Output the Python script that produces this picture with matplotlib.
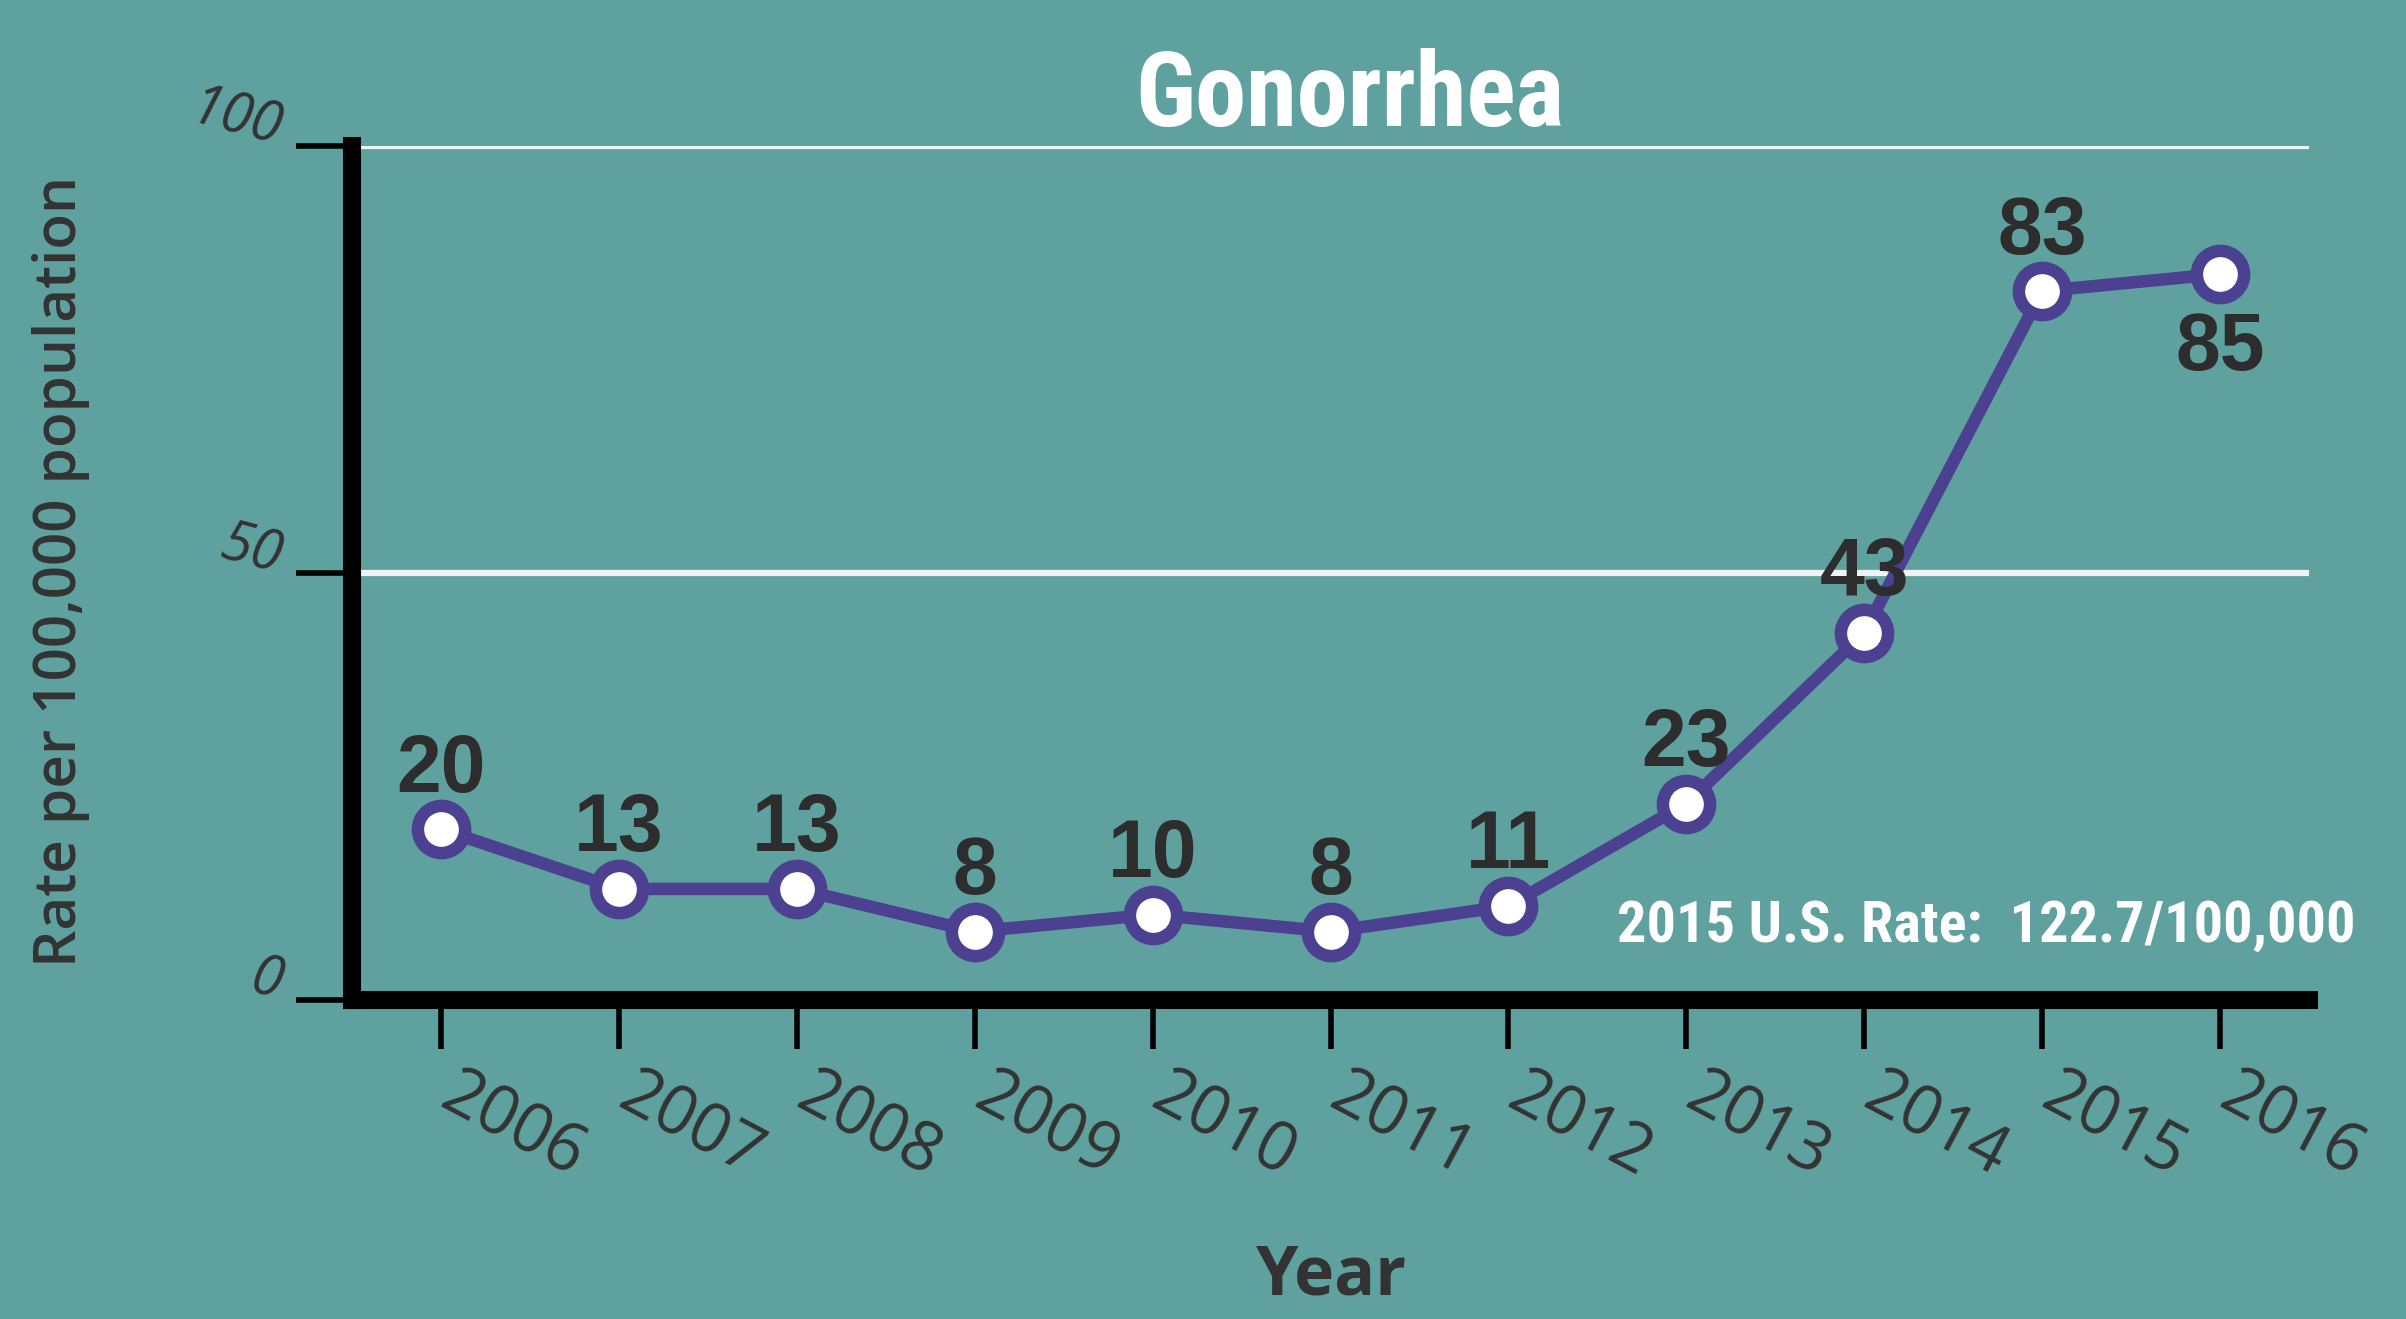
import matplotlib
matplotlib.use('Agg')
import matplotlib.pyplot as plt
from matplotlib.transforms import ScaledTranslation

# data
years = [2006, 2007, 2008, 2009, 2010, 2011, 2012, 2013, 2014, 2015, 2016]
rates = [20, 13, 13, 8, 10, 8, 11, 23, 43, 83, 85]
below = [2016]                      # years whose value label sits under the point
yticks = [0, 50, 100]
title = 'Gonorrhea'
note = '2015 U.S. Rate:  122.7/100,000'

bg = '#5fa19e'
purple = '#4b4190'
dark = '#2d2d2d'
narrow = ['Roboto Condensed', 'DejaVu Sans Condensed', 'Liberation Sans Narrow', 'Roboto']

fig = plt.figure(figsize=(24.06, 13.19), dpi=100, facecolor=bg)
ax = fig.add_axes([0.1463, 0.2419, 0.8134, 0.6475], facecolor=bg)
ax.set_xlim(2005.5, 2016.5)
ax.set_ylim(0, 100)

# gridlines (white) at 50 / 100
ax.set_yticks(yticks)
ax.yaxis.grid(True, color='#eef3f3', lw=4.5)
ax.set_axisbelow(True)

ax.plot(years, rates, color=purple, lw=9, marker='o', ms=34, mfc='white',
        mec=purple, mew=9, zorder=3, clip_on=False)

for x, v in zip(years, rates):
    if x in below:
        ax.annotate(str(v), (x, v), xytext=(0, -27), textcoords='offset points',
                    ha='center', va='top', fontsize=58, fontweight='bold',
                    family='Liberation Sans', color=dark, zorder=4)
    else:
        ax.annotate(str(v), (x, v), xytext=(0, 27), textcoords='offset points',
                    ha='center', va='baseline', fontsize=58, fontweight='bold',
                    family='Liberation Sans', color=dark, zorder=4)

# spines
for s in ['top', 'right']:
    ax.spines[s].set_visible(False)
for s in ['left', 'bottom']:
    ax.spines[s].set_linewidth(13)
    ax.spines[s].set_color('black')

# ticks
ax.set_xticks(years)
ax.set_xticklabels([str(y) for y in years])
ax.tick_params(axis='x', length=35, width=4, color='black', pad=9,
               labelsize=48, labelcolor='#333333')
shift = ScaledTranslation(0.2, 0, fig.dpi_scale_trans)
for lab in ax.get_xticklabels():
    lab.set_rotation(-28)
    lab.set_ha('left')
    lab.set_va('top')
    lab.set_rotation_mode('anchor')
    lab.set_family('Open Sans')
    lab.set_transform(lab.get_transform() + shift)

ax.set_yticklabels([str(t) for t in yticks])
ax.tick_params(axis='y', length=40, width=4, color='black', pad=14,
               labelsize=40, labelcolor='#333333')
for lab in ax.get_yticklabels():
    lab.set_rotation(-15)
    lab.set_rotation_mode('anchor')
    lab.set_ha('right')
    lab.set_va('baseline')
    lab.set_style('italic')
    lab.set_family('Open Sans')

# text
fig.text(0.561, 0.9045, title, ha='center', va='baseline', color='white',
         fontsize=74, fontweight='bold', family=narrow)
fig.text(0.979, 0.2858, note, ha='right', va='baseline', color='white',
         fontsize=42, fontweight='bold', family=narrow)
fig.text(0.5535, 0.0326, 'Year', ha='center', va='center', color='#333333',
         fontsize=49, fontweight='bold', family='Open Sans')
fig.text(0.0254, 0.567, 'Rate per 100,000 population', rotation=90, ha='center',
         va='center', color='#333333', fontsize=42, fontweight='semibold',
         family='Open Sans')

fig.savefig('out.png', dpi=100, facecolor=bg)
